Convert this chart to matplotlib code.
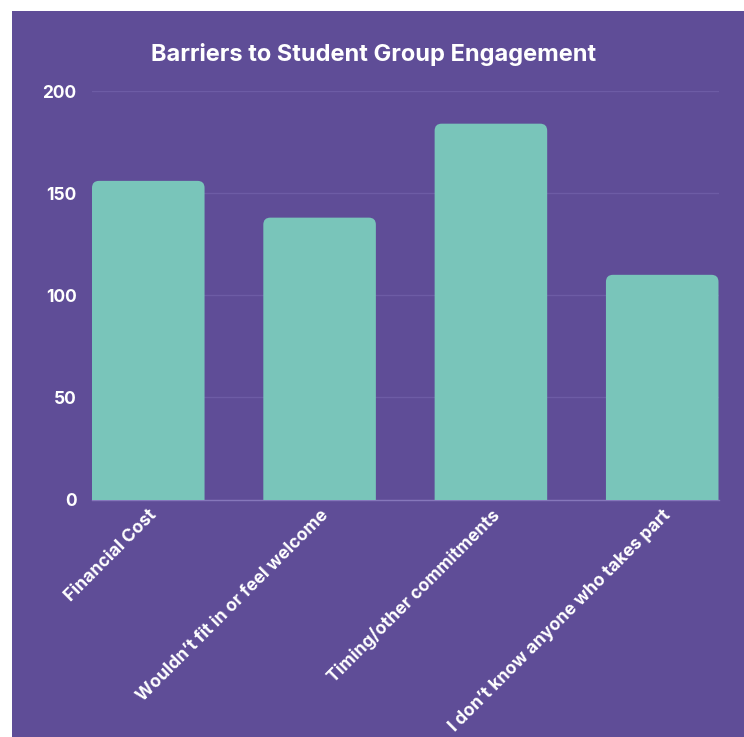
import matplotlib
matplotlib.use("Agg")
import matplotlib.pyplot as plt
from matplotlib.patches import FancyBboxPatch, Rectangle

categories = ["Financial Cost", "Wouldn\u2019t fit in or feel welcome",
              "Timing/other commitments", "I don\u2019t know anyone who takes part"]
values = [156, 138, 184, 110]
yticks = [0, 50, 100, 150, 200]
title = "Barriers to Student Group Engagement"

BG = "#5F4D97"
BAR = "#79C5BA"
GRID = "#6D5CA5"
FONT = ["Inter", "DejaVu Sans"]

W, H = 744, 737
fig = plt.figure(figsize=(W / 100, H / 100), dpi=100)
fig.patch.set_facecolor("white")
fig.patches.append(Rectangle((12 / W, 0), 1, 1 - 11 / H, transform=fig.transFigure,
                             facecolor=BG, edgecolor="none", zorder=-5))

ax = fig.add_axes([92 / W, 1 - 499.5 / H, (718.5 - 92) / W, (499.5 - 91) / H])
ax.set_facecolor("none")
width = 0.657
ax.set_xlim(-width / 2, len(categories) - 1 + width / 2)
ax.set_ylim(0, 200)

bars = ax.bar(range(len(categories)), values, width=width, color=BAR)

# rounded top corners
fig.canvas.draw()
p0 = ax.transData.transform((0, 0))
p1 = ax.transData.transform((1, 1))
px_x = p1[0] - p0[0]
px_y = p1[1] - p0[1]
rpx = 7
rx = rpx / px_x
ry = rpx / px_y
for b in bars:
    x, w, h = b.get_x(), b.get_width(), b.get_height()
    b.set_visible(False)
    patch = FancyBboxPatch((x, -ry * 2), w, h + ry * 2,
                           boxstyle=f"round,pad=0,rounding_size={rx}",
                           mutation_aspect=ry / rx,
                           facecolor=BAR, edgecolor="none", zorder=3)
    ax.add_patch(patch)

ax.set_yticks(yticks)
ax.set_yticklabels([str(t) for t in yticks], fontsize=12.5, fontweight="bold",
                   color="white", family=FONT)
ax.tick_params(axis="y", length=0, pad=11)
ax.tick_params(axis="x", length=0, pad=5)
ax.set_xticks(range(len(categories)))
ax.set_xticklabels(categories, rotation=45, ha="right", rotation_mode="anchor",
                   fontsize=12.7, fontweight="bold", color="white", family=FONT)
ax.grid(axis="y", color=GRID, linewidth=1)
ax.set_axisbelow(True)
for s in ["top", "right", "left"]:
    ax.spines[s].set_visible(False)
ax.spines["bottom"].set_color("#8677BB")
ax.spines["bottom"].set_linewidth(1)
ax.spines["bottom"].set_zorder(1)

fig.text(373.5 / W, 1 - 54 / H, title, ha="center", va="center", fontsize=17,
         fontweight="bold", color="white", family=FONT)

fig.savefig("out.png", dpi=100)
